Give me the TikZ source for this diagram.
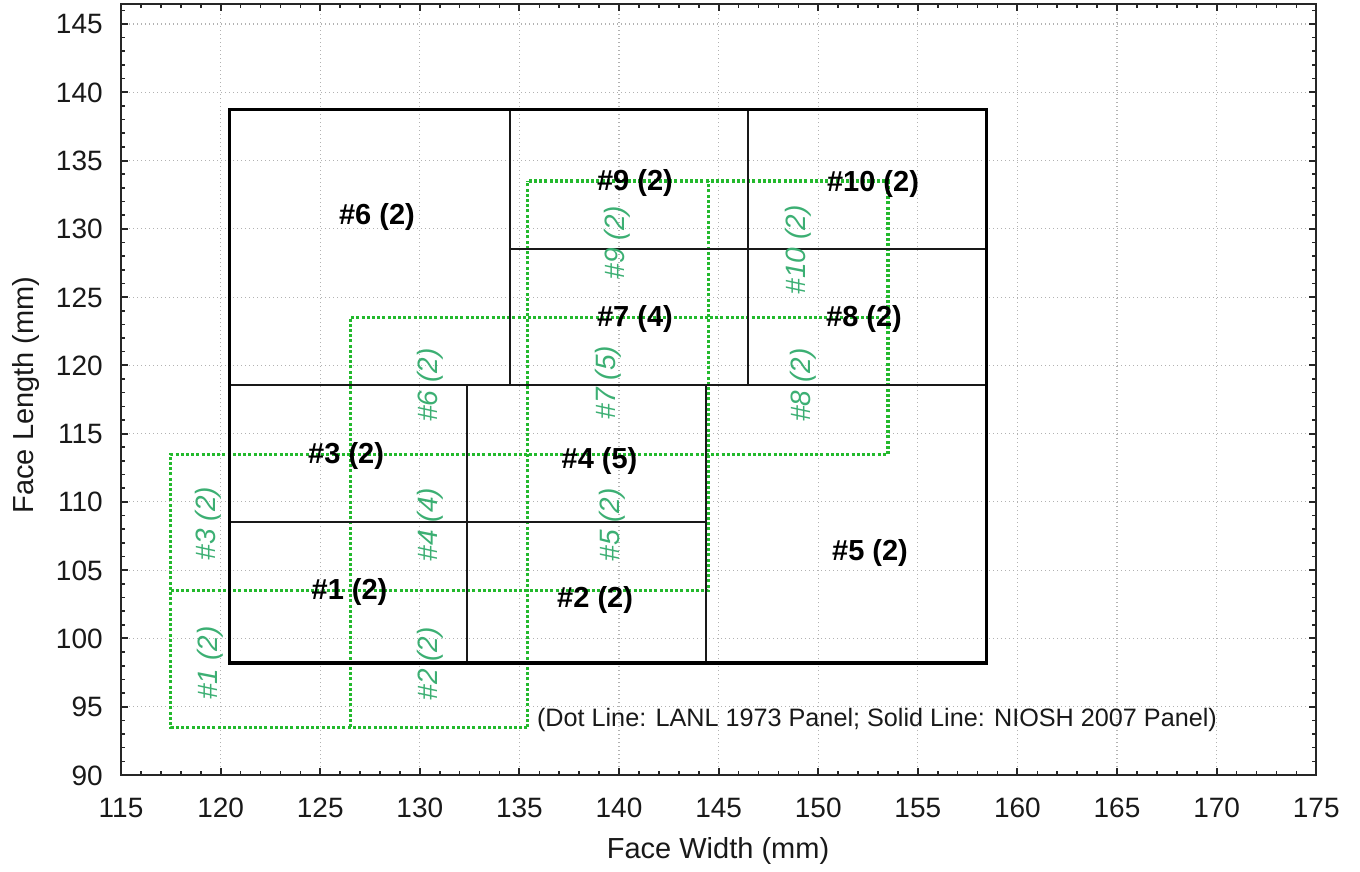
\documentclass[tikz,border=0pt]{standalone}
\usepackage{fontspec}
\setmainfont{Liberation Sans}
\definecolor{lanlgreen}{RGB}{35,185,45}
\definecolor{lanltext}{RGB}{60,175,115}
\begin{document}
\begin{tikzpicture}[x=9.96pt,y=6.8275pt,
  gridln/.style={draw=black!30, line width=0.55pt, dash pattern=on 0.6pt off 1.4pt},
  axisln/.style={draw=black!85, line width=1pt},
  nioshin/.style={draw=black!90, line width=1pt},
  nioshout/.style={draw=black, line width=1.6pt},
  lanl/.style={draw=lanlgreen, line width=1.6pt, dash pattern=on 1.5pt off 1.1pt},
  cellab/.style={font=\fontsize{14.5}{16}\selectfont\bfseries, text=black, inner sep=0pt},
  lanllab/.style={font=\fontsize{14}{16}\selectfont\itshape, text=lanltext, rotate=90, inner sep=0pt},
  ticklab/.style={font=\fontsize{14}{16}\selectfont, text=black!90, inner sep=0pt},
  axlab/.style={font=\fontsize{14.5}{16}\selectfont, text=black!90, inner sep=0pt}
]
\useasboundingbox (108.926,82.970) rectangle (177.199,146.757);
% grid
\foreach \gx in {120,125,...,170} \draw[gridln] (\gx,90) -- (\gx,146.46);
\foreach \gy in {95,100,...,145} \draw[gridln] (115,\gy) -- (175,\gy);
% LANL panel (dotted)
\draw[lanl] (135.4,93.5) -- (117.5,93.5) -- (117.5,113.5) -- (153.5,113.5) -- (153.5,133.5) -- (135.4,133.5);
\draw[lanl] (117.5,103.5) -- (144.5,103.5) -- (144.5,133.5);
\draw[lanl] (126.5,93.5) -- (126.5,123.5) -- (153.5,123.5);
\draw[lanl] (135.4,93.5) -- (135.4,133.5);
% NIOSH panel (solid)
\draw[nioshin] (120.45,118.55) -- (158.45,118.55);
\draw[nioshin] (120.45,108.5) -- (144.35,108.5);
\draw[nioshin] (132.35,98.2) -- (132.35,118.55);
\draw[nioshin] (144.35,98.2) -- (144.35,118.55);
\draw[nioshin] (134.55,118.55) -- (134.55,138.75);
\draw[nioshin] (146.45,118.55) -- (146.45,138.75);
\draw[nioshin] (134.55,128.55) -- (158.45,128.55);
\draw[nioshout] (120.45,98.2) rectangle (158.45,138.75);
% axes frame and ticks
\draw[axisln] (115,90) rectangle (175,146.46);
\foreach \tx in {116,...,174} {
  \draw[axisln, line width=0.8pt] (\tx,90) -- (\tx,90.29);
  \draw[axisln, line width=0.8pt] (\tx,146.46) -- (\tx,146.17);
}
\foreach \tx in {120,125,...,170} {
  \draw[axisln] (\tx,90) -- (\tx,90.51);
  \draw[axisln] (\tx,146.46) -- (\tx,145.95);
}
\foreach \ty in {91,...,146} {
  \draw[axisln, line width=0.8pt] (115,\ty) -- (115.2,\ty);
  \draw[axisln, line width=0.8pt] (175,\ty) -- (174.8,\ty);
}
\foreach \ty in {95,100,...,145} {
  \draw[axisln] (115,\ty) -- (115.35,\ty);
  \draw[axisln] (175,\ty) -- (174.65,\ty);
}
% tick labels
\foreach \tx in {115,120,...,175} \node[ticklab, anchor=base] (xl\tx) at (\tx,86.92) {\tx};
\foreach \ty in {90,95,...,145} \node[ticklab, anchor=base east, yshift=-5pt] (yl\ty) at (114.1,\ty) {\ty};
% axis titles
\node[axlab, anchor=base] (xtitle) at (144.97,83.85) {Face Width (mm)};
\node[axlab, anchor=base, rotate=90] (ytitle) at (110.6,117.83) {Face Length (mm)};
% NIOSH cell labels
\node[cellab] (c1) at (126.47,103.37) {\#1 (2)};
\node[cellab] (c2) at (138.80,102.82) {\#2 (2)};
\node[cellab] (c3) at (126.30,113.36) {\#3 (2)};
\node[cellab] (c4) at (139.02,112.96) {\#4 (5)};
\node[cellab] (c5) at (152.60,106.26) {\#5 (2)};
\node[cellab] (c6) at (127.85,130.87) {\#6 (2)};
\node[cellab] (c7) at (140.80,123.43) {\#7 (4)};
\node[cellab] (c8) at (152.30,123.43) {\#8 (2)};
\node[cellab] (c9) at (140.80,133.39) {\#9 (2)};
\node[cellab] (c10) at (152.75,133.28) {\#10 (2)};
% LANL cell labels
\node[lanllab] (g1) at (119.47,98.2) {\#1 (2)};
\node[lanllab] (g2) at (130.51,98.13) {\#2 (2)};
\node[lanllab] (g3) at (119.39,108.42) {\#3 (2)};
\node[lanllab] (g4) at (130.51,108.35) {\#4 (4)};
\node[lanllab] (g5) at (139.65,108.31) {\#5 (2)};
\node[lanllab] (g6) at (130.51,118.56) {\#6 (2)};
\node[lanllab] (g7) at (139.45,118.74) {\#7 (5)};
\node[lanllab] (g8) at (149.24,118.56) {\#8 (2)};
\node[lanllab] (g9) at (139.90,129.0) {\#9 (2)};
\node[lanllab] (g10) at (148.99,128.45) {\#10 (2)};
% note
\node[font=\fontsize{12.6}{14}\selectfont, text=black!90, inner sep=0pt, anchor=base] (note) at (152.95,93.52) {(Dot Line: LANL 1973 Panel; Solid Line: NIOSH 2007 Panel)};
\end{tikzpicture}
\end{document}
